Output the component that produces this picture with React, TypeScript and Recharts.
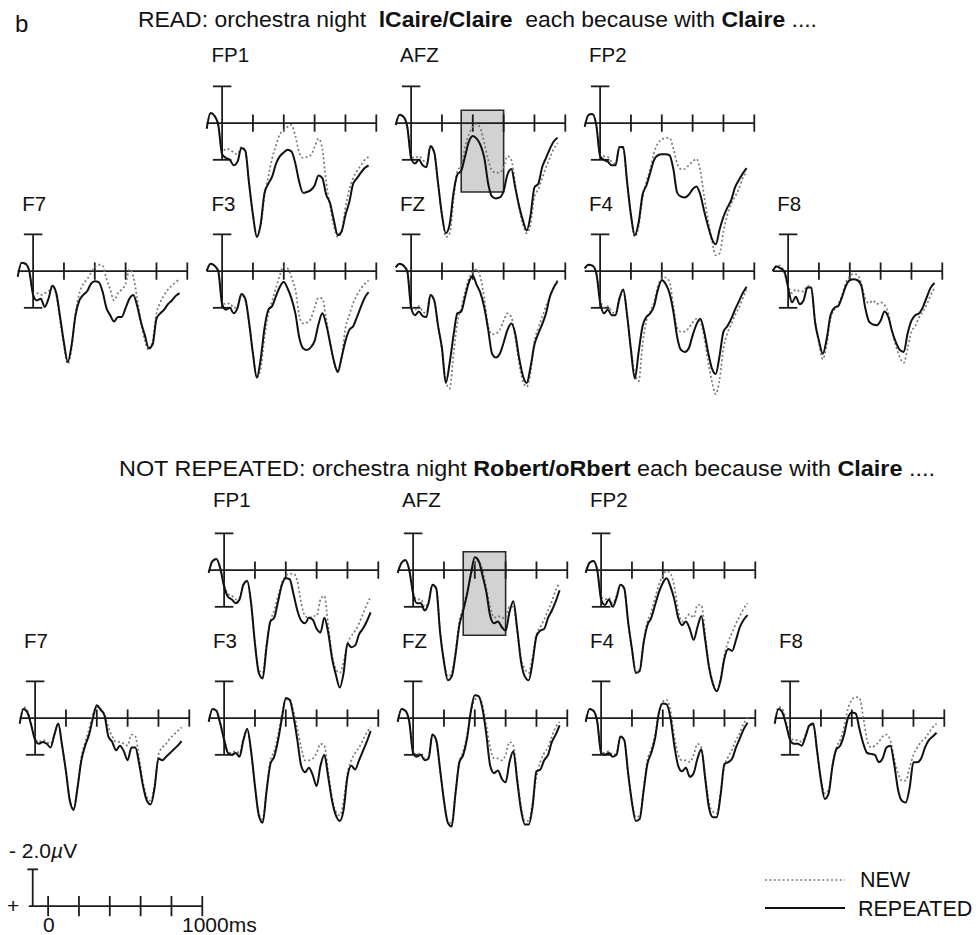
import React from "react";
import { LineChart, Line, XAxis, YAxis, ReferenceLine, ReferenceArea } from "recharts";

// time base (ms) shared by every trace
const TIMES = [-100,-75,-50,-25,0,25,50,75,100,125,150,175,200,225,250,275,300,325,350,375,400,425,450,475,500,525,550,575,600,625,650,675,700,725,750,775,800,825,850,875,900,925,950];
const TICKS = [200, 400, 600, 800, 1000];
const SCALE_TICKS = [0, 200, 400, 600, 800, 1000];

// amplitudes in microvolts (positive plotted downward)
// READ panel
const READ_FP1_REP = [0.3,-0.55,-0.4,0.1,1.7,1.9,2.0,2.3,2.1,1.35,1.5,3.3,5.0,6.2,5.5,3.8,3.3,2.9,2.2,1.8,1.6,1.45,1.55,2.2,3.2,3.8,3.75,3.65,3.4,2.85,3.0,3.9,4.35,5.3,6.1,5.9,5.0,4.3,3.3,3.0,2.7,2.45,2.3];
const READ_FP1_NEW = [0.3,-0.55,-0.4,0.1,1.6,1.4,1.45,1.6,1.7,1.3,1.5,3.3,5.0,6.1,5.6,4.0,2.9,1.9,1.2,0.6,0.4,0.2,0.1,0.7,1.6,1.9,1.85,1.75,1.3,0.85,1.4,3.2,4.5,5.6,6.2,5.9,4.6,3.6,3.0,2.6,2.3,2.0,1.85];
const READ_AFZ_REP = [0.1,-0.45,-0.35,0.2,1.9,2.2,2.0,2.3,2.4,1.25,1.6,3.3,5.0,6.0,5.5,3.8,2.8,2.6,1.8,1.0,0.7,0.85,1.2,1.9,3.3,4.0,4.1,4.05,3.7,2.8,2.5,3.5,4.5,5.3,5.85,5.0,3.5,3.3,2.4,1.9,1.4,1.0,0.8];
const READ_AFZ_NEW = [0.1,-0.45,-0.35,0.2,1.8,1.9,1.8,2.0,2.2,1.3,1.6,3.3,5.0,6.2,6.0,4.2,2.6,2.3,1.3,0.6,0.2,0.05,0.3,1.1,2.0,2.6,2.7,2.7,2.4,1.8,2.0,3.3,4.6,5.5,6.0,5.5,4.0,3.6,3.0,2.4,1.9,1.4,1.1];
const READ_FP2_REP = [0.2,-0.45,-0.5,0.1,1.8,2.0,2.1,2.3,2.3,1.3,1.3,3.2,5.0,6.1,5.4,3.9,3.4,2.7,2.0,1.75,1.7,1.7,1.75,2.5,3.8,4.0,4.05,3.9,3.6,3.45,3.9,4.8,5.6,6.3,6.6,5.8,5.1,4.6,4.2,3.5,3.1,2.75,2.45];
const READ_FP2_NEW = [0.2,-0.45,-0.5,0.1,1.7,1.8,1.85,2.1,2.2,1.3,1.4,3.3,5.1,6.2,5.6,4.1,3.2,2.5,1.6,1.1,0.9,0.8,0.8,1.4,2.2,2.5,2.5,2.3,2.1,1.95,2.6,4.0,5.3,6.4,7.2,7.1,5.9,5.0,4.4,4.0,3.6,3.0,2.7];
const READ_F7_REP = [0.3,-0.45,-0.4,0.0,1.3,1.6,1.5,1.95,1.5,0.8,1.2,2.5,3.9,4.95,4.0,2.4,1.6,1.3,1.1,0.7,0.55,0.6,1.1,2.0,2.4,2.75,2.5,2.5,2.0,1.5,1.3,1.9,2.8,3.5,4.2,4.0,2.6,2.3,2.1,1.8,1.6,1.35,1.2];
const READ_F7_NEW = [0.3,-0.45,-0.4,0.0,1.2,1.2,1.3,1.2,1.1,0.8,1.3,2.7,4.1,5.05,4.2,2.3,1.2,0.7,0.45,0.1,-0.2,-0.35,-0.3,0.4,1.0,1.6,1.2,1.0,0.7,-0.1,0.3,1.5,2.8,3.8,4.3,3.8,2.3,1.7,1.3,1.0,0.8,0.6,0.45];
const READ_F3_REP = [0.0,-0.4,-0.3,0.0,1.8,2.1,2.0,2.3,2.0,1.25,1.5,2.8,4.5,5.8,4.8,3.1,2.1,1.9,1.35,0.85,0.6,0.95,1.5,2.3,3.6,4.2,4.3,4.15,3.8,2.9,2.3,2.9,3.9,4.9,5.5,4.7,3.8,3.2,3.0,2.5,1.95,1.45,1.15];
const READ_F3_NEW = [0.0,-0.4,-0.3,0.0,1.7,1.8,1.75,2.0,1.9,1.3,1.6,2.9,4.5,5.8,5.3,3.6,2.3,1.6,0.9,0.2,-0.25,-0.15,0.35,1.0,2.4,2.85,2.8,2.6,2.0,1.45,1.5,2.6,3.9,5.0,5.4,4.7,3.1,2.4,1.75,1.3,0.95,0.7,0.5];
const READ_FZ_REP = [-0.2,-0.4,-0.3,0.0,2.0,2.4,2.2,2.45,2.5,1.3,1.6,3.0,4.2,6.1,5.0,3.5,2.3,2.2,1.4,0.6,0.25,0.75,1.2,2.0,3.2,4.5,4.7,4.5,3.9,3.2,2.85,3.4,4.7,5.7,6.1,5.2,4.0,3.4,2.9,2.3,1.4,0.9,0.55];
const READ_FZ_NEW = [-0.2,-0.4,-0.3,0.0,1.9,2.1,1.9,2.2,2.3,1.3,1.6,3.0,4.3,6.0,6.4,4.5,2.8,2.0,1.1,0.4,0.05,-0.1,0.35,1.5,3.0,3.45,3.4,3.2,2.7,2.3,2.5,3.6,5.0,6.0,6.3,5.5,3.8,3.1,2.5,1.9,1.4,0.9,0.5];
const READ_F4_REP = [-0.15,-0.35,-0.3,0.1,1.7,2.3,2.1,2.4,2.4,1.5,1.0,2.4,4.3,5.85,4.4,3.0,2.5,2.3,1.9,1.0,0.5,0.7,1.2,2.2,3.6,4.3,4.4,4.2,3.5,2.9,2.6,3.3,4.4,5.3,5.6,4.6,3.3,3.0,2.6,2.1,1.65,1.2,0.85];
const READ_F4_NEW = [-0.15,-0.35,-0.3,0.1,1.5,2.0,1.9,2.2,2.3,1.5,1.1,2.4,4.2,5.6,6.0,4.0,2.7,2.2,1.7,0.8,0.4,0.35,0.6,1.9,3.1,3.3,3.3,3.1,2.8,2.6,2.75,3.6,4.9,6.0,6.7,5.9,4.2,3.4,2.9,2.4,2.0,1.5,1.0];
const READ_F8_REP = [0.0,-0.25,-0.15,0.0,0.9,1.7,1.4,1.8,1.6,0.9,0.9,2.8,3.8,4.5,3.7,2.4,2.0,1.9,1.4,0.8,0.5,0.45,0.5,0.8,2.0,2.75,2.9,2.95,2.7,2.2,2.5,3.3,3.9,4.3,4.4,3.4,2.7,2.4,2.3,1.95,1.4,0.9,0.65];
const READ_F8_NEW = [0.0,-0.3,-0.3,0.1,0.8,1.2,1.0,1.1,1.1,0.8,0.9,2.7,3.9,4.8,4.0,2.6,2.1,1.8,1.3,0.6,0.3,0.15,0.2,0.7,1.5,1.75,1.6,1.8,1.7,1.85,2.3,3.3,4.1,4.7,5.0,4.2,3.3,3.0,2.5,2.2,1.8,1.3,0.9];

// NOT REPEATED panel
const NR_FP1_REP = [0.15,-0.5,-0.6,-0.1,0.9,1.45,1.6,1.8,1.6,0.8,0.6,1.8,4.0,5.6,5.9,4.2,2.8,2.6,1.7,0.8,0.45,0.5,1.3,2.2,2.75,2.9,2.6,2.7,3.2,3.4,2.6,3.4,4.8,5.7,6.4,5.6,4.0,4.2,4.1,3.5,3.2,2.8,2.3];
const NR_FP1_NEW = [0.15,-0.5,-0.55,-0.1,0.8,1.3,1.4,1.6,1.5,0.8,0.6,1.9,4.0,5.4,5.6,4.0,2.8,2.2,1.4,0.7,0.3,0.2,0.2,0.6,1.8,2.5,2.6,2.5,2.5,1.6,1.4,3.0,4.6,5.4,5.6,5.0,4.0,3.6,3.3,2.9,2.4,1.9,1.45];
const NR_AFZ_REP = [0.15,-0.4,-0.55,0.0,1.3,1.8,1.8,2.2,1.8,0.8,1.0,3.4,5.0,6.0,5.8,4.6,3.0,2.2,1.3,0.2,-0.7,-0.5,0.3,1.2,2.5,2.9,2.8,3.1,3.3,2.3,1.7,3.2,5.0,5.8,6.0,5.0,3.6,3.3,3.2,2.6,2.2,1.7,1.1];
const NR_AFZ_NEW = [0.15,-0.4,-0.5,0.0,1.2,1.6,1.6,2.0,1.7,0.8,1.0,3.3,4.9,5.8,5.6,4.4,2.8,2.0,1.2,0.3,-0.4,-0.5,0.0,1.0,2.0,2.6,2.5,2.6,2.6,2.0,2.0,3.3,4.8,5.4,5.6,4.7,3.5,3.1,2.7,2.2,1.7,1.1,0.7];
const NR_FP2_REP = [0.15,-0.4,-0.5,0.0,1.6,1.9,1.6,2.0,1.5,0.8,1.0,2.8,4.3,5.6,5.5,4.0,3.0,2.6,1.9,1.2,0.7,0.45,0.9,1.6,2.6,3.0,2.8,3.2,3.8,3.1,2.5,3.8,5.3,6.2,6.6,6.0,4.8,4.3,4.4,3.8,3.1,2.7,2.45];
const NR_FP2_NEW = [0.15,-0.4,-0.5,0.0,1.4,1.6,1.5,1.8,1.4,0.8,1.0,2.9,4.3,5.5,5.4,3.9,2.8,2.3,1.5,0.8,0.3,0.05,0.2,0.9,2.2,2.8,2.6,2.4,2.6,1.9,1.9,3.5,5.2,6.1,6.6,5.9,4.6,3.9,3.4,2.9,2.5,2.1,1.8];
const NR_F7_REP = [0.3,-0.5,-0.3,0.4,1.2,1.4,1.3,1.4,1.6,0.9,0.3,1.5,2.9,4.5,5.0,3.8,2.3,1.5,0.9,0.0,-0.7,-0.45,-0.15,1.0,1.3,1.75,1.5,1.8,2.3,1.6,1.6,2.5,3.7,4.5,4.7,3.8,2.2,2.3,2.1,1.9,1.7,1.5,1.25];
const NR_F7_NEW = [0.3,-0.6,-0.4,0.3,1.1,1.3,1.2,1.3,1.4,0.9,0.3,1.5,2.9,4.4,4.9,3.7,2.1,1.3,0.6,-0.2,-0.6,-0.5,-0.2,0.5,1.0,1.3,1.3,1.4,1.5,0.9,1.0,2.2,3.5,4.3,4.5,3.6,2.0,1.6,1.4,1.1,0.9,0.7,0.5];
const NR_F3_REP = [0.2,-0.5,-0.4,0.3,1.2,1.9,2.0,1.9,2.1,1.2,0.6,1.8,3.7,5.3,5.7,4.0,2.5,2.1,1.2,0.0,-1.1,-1.0,-0.1,1.2,2.6,2.95,2.7,3.1,3.7,2.6,2.0,3.2,4.5,5.3,5.6,5.0,3.2,2.6,2.8,2.3,1.8,1.3,0.7];
const NR_F3_NEW = [0.2,-0.5,-0.4,0.3,1.1,1.8,1.9,1.8,1.9,1.1,0.6,1.9,3.7,5.2,5.5,3.9,2.3,1.8,0.9,-0.2,-1.0,-1.0,-0.4,0.6,1.6,2.3,2.3,2.2,1.9,1.4,1.5,2.9,4.3,5.1,5.3,4.5,3.0,2.3,1.9,1.6,1.2,0.8,0.5];
const NR_FZ_REP = [0.2,-0.5,-0.4,0.2,1.9,2.1,2.0,2.3,2.2,0.9,1.2,2.8,4.5,5.7,5.9,4.1,2.4,2.0,1.1,-0.4,-1.25,-1.2,-0.5,0.9,2.6,3.0,2.85,3.3,3.5,2.4,1.8,3.4,5.0,5.8,5.8,4.8,2.9,2.8,2.3,2.0,1.3,0.9,0.4];
const NR_FZ_NEW = [0.2,-0.5,-0.4,0.2,1.8,2.0,1.9,2.2,2.1,0.9,1.3,2.9,4.5,5.6,5.7,4.0,2.4,1.8,0.9,-0.3,-1.0,-1.1,-0.7,0.4,1.6,2.2,2.2,2.3,2.0,1.3,1.5,3.2,4.8,5.6,5.6,4.6,3.2,2.4,1.9,1.6,1.0,0.5,0.2];
const NR_F4_REP = [0.2,-0.5,-0.4,0.2,1.9,2.0,1.9,2.1,2.0,1.0,1.2,3.0,4.6,5.6,5.5,4.0,2.5,1.9,1.1,-0.3,-0.8,-0.75,0.0,1.5,2.6,2.9,2.7,3.2,3.0,2.2,1.7,3.3,4.9,5.4,5.4,4.2,2.5,2.4,2.2,1.6,1.1,0.6,0.25];
const NR_F4_NEW = [0.2,-0.5,-0.4,0.2,1.8,1.9,1.8,2.0,1.9,1.0,1.2,3.0,4.5,5.4,5.3,3.9,2.3,1.7,0.9,-0.3,-0.9,-1.0,-0.4,1.0,2.0,2.3,2.3,2.4,2.0,1.4,1.6,3.1,4.6,5.1,5.2,4.0,2.6,2.1,1.7,1.2,0.8,0.3,0.0];
const NR_F8_REP = [0.3,-0.5,-0.3,0.4,1.2,1.4,1.4,1.5,1.0,0.4,0.3,1.8,3.4,4.4,4.1,2.6,1.7,1.5,0.9,0.0,-0.3,-0.25,0.6,1.4,1.9,1.95,2.0,2.4,2.2,1.6,1.5,2.5,3.9,4.5,4.6,3.8,2.4,2.4,2.2,1.6,1.2,1.0,0.8];
const NR_F8_NEW = [0.3,-0.6,-0.5,0.2,1.0,1.2,1.2,1.3,0.9,0.4,0.4,1.8,3.3,4.1,3.9,2.5,1.6,1.2,0.5,-0.5,-1.0,-1.15,-1.1,0.0,1.2,1.6,1.5,1.3,1.0,0.9,1.2,2.2,3.0,3.4,3.4,2.7,2.0,1.6,1.3,1.1,0.8,0.5,0.3];

// analysis window shown as grey box on AFZ: [ms start, ms end, uV top, uV bottom]
const READ_BOX = [325, 600, -0.7, 3.75];
const NR_BOX = [325, 600, -1.0, 3.55];

const READ_TITLE = ["READ: orchestra night  ", "lCaire/Claire", "  each because with ", "Claire", " ...."];
const NR_TITLE = ["NOT REPEATED: orchestra night ", "Robert/oRbert", " each because with ", "Claire", " ...."];

// layout constants
const PX_MS = 0.1542;
const PX_UV = 18.36;
const X_MIN = -150, X_MAX = 1050, Y_MIN = -3, Y_MAX = 8;
const W = Math.round((X_MAX - X_MIN) * PX_MS);
const H = Math.round((Y_MAX - Y_MIN) * PX_UV);
const FONT = "'Liberation Sans', Arial, Helvetica, sans-serif";

const AX = "#1c1c1c";

type MiniProps = { axisX: number; zeroY: number; rep: number[]; neu: number[]; box?: number[] };

function Mini({ axisX, zeroY, rep, neu, box }: MiniProps) {
  const data = TIMES.map((t, i) => ({ t, n: neu[i], r: rep[i] }));
  return (
    <div style={{ position: "absolute", left: axisX + X_MIN * PX_MS, top: zeroY + Y_MIN * PX_UV, width: W, height: H }}>
      <LineChart width={W} height={H} data={data} margin={{ top: 0, right: 0, bottom: 0, left: 0 }}>
        <XAxis type="number" dataKey="t" domain={[X_MIN, X_MAX]} hide allowDataOverflow />
        <YAxis type="number" domain={[Y_MIN, Y_MAX]} reversed hide allowDataOverflow />
        {box && (
          <ReferenceArea x1={box[0]} x2={box[1]} y1={box[2]} y2={box[3]} fill="#d2d2d2" fillOpacity={1} stroke="#2a2a2a" strokeWidth={1.6} />
        )}
        <ReferenceLine segment={[{ x: -100, y: 0 }, { x: 1000, y: 0 }]} stroke={AX} strokeWidth={1.8} />
        {TICKS.map((tk) => (
          <ReferenceLine key={tk} segment={[{ x: tk, y: -0.47 }, { x: tk, y: 0.47 }]} stroke={AX} strokeWidth={1.8} />
        ))}
        <ReferenceLine segment={[{ x: 0, y: -2 }, { x: 0, y: 2 }]} stroke={AX} strokeWidth={1.8} />
        <ReferenceLine segment={[{ x: -60, y: -2 }, { x: 60, y: -2 }]} stroke={AX} strokeWidth={1.8} />
        <ReferenceLine segment={[{ x: -60, y: 2 }, { x: 60, y: 2 }]} stroke={AX} strokeWidth={1.8} />
        <Line dataKey="n" type="monotone" stroke="#7a7a7a" strokeWidth={1.7} strokeDasharray="2 2.4" dot={false} isAnimationActive={false} />
        <Line dataKey="r" type="monotone" stroke="#111" strokeWidth={2} dot={false} isAnimationActive={false} />
      </LineChart>
    </div>
  );
}

function ScaleBar({ axisX, zeroY }: { axisX: number; zeroY: number }) {
  const data = SCALE_TICKS.map((t) => ({ t }));
  return (
    <div style={{ position: "absolute", left: axisX + X_MIN * PX_MS, top: zeroY + Y_MIN * PX_UV, width: W, height: H }}>
      <LineChart width={W} height={H} data={data} margin={{ top: 0, right: 0, bottom: 0, left: 0 }}>
        <XAxis type="number" dataKey="t" domain={[X_MIN, X_MAX]} hide allowDataOverflow />
        <YAxis type="number" domain={[Y_MIN, Y_MAX]} reversed hide allowDataOverflow />
        <ReferenceLine segment={[{ x: -125, y: 0 }, { x: 1000, y: 0 }]} stroke={AX} strokeWidth={1.8} />
        {SCALE_TICKS.map((tk) => (
          <ReferenceLine key={tk} segment={[{ x: tk, y: -0.55 }, { x: tk, y: 0.55 }]} stroke={AX} strokeWidth={1.8} />
        ))}
        <ReferenceLine segment={[{ x: -100, y: -2 }, { x: -100, y: 0 }]} stroke={AX} strokeWidth={1.8} />
        <ReferenceLine segment={[{ x: -135, y: -2 }, { x: -65, y: -2 }]} stroke={AX} strokeWidth={1.8} />
      </LineChart>
    </div>
  );
}

// column axis positions (x of 0 ms), row zero lines (y of 0 uV), label baselines per row
const READ_COLS = [33.3, 222.6, 411, 600, 788.3];
const READ_ROWS = [123, 271];
const READ_LABEL_Y = [62, 211];
const NR_COLS = [35, 224, 413, 601, 790];
const NR_ROWS = [570, 718];
const NR_LABEL_Y = [507, 648];

type Plot = { name: string; col: number; row: number; rep: number[]; neu: number[]; box?: number[] };

const READ_PLOTS: Plot[] = [
  { name: "FP1", col: 1, row: 0, rep: READ_FP1_REP, neu: READ_FP1_NEW },
  { name: "AFZ", col: 2, row: 0, rep: READ_AFZ_REP, neu: READ_AFZ_NEW, box: READ_BOX },
  { name: "FP2", col: 3, row: 0, rep: READ_FP2_REP, neu: READ_FP2_NEW },
  { name: "F7", col: 0, row: 1, rep: READ_F7_REP, neu: READ_F7_NEW },
  { name: "F3", col: 1, row: 1, rep: READ_F3_REP, neu: READ_F3_NEW },
  { name: "FZ", col: 2, row: 1, rep: READ_FZ_REP, neu: READ_FZ_NEW },
  { name: "F4", col: 3, row: 1, rep: READ_F4_REP, neu: READ_F4_NEW },
  { name: "F8", col: 4, row: 1, rep: READ_F8_REP, neu: READ_F8_NEW },
];
const NR_PLOTS: Plot[] = [
  { name: "FP1", col: 1, row: 0, rep: NR_FP1_REP, neu: NR_FP1_NEW },
  { name: "AFZ", col: 2, row: 0, rep: NR_AFZ_REP, neu: NR_AFZ_NEW, box: NR_BOX },
  { name: "FP2", col: 3, row: 0, rep: NR_FP2_REP, neu: NR_FP2_NEW },
  { name: "F7", col: 0, row: 1, rep: NR_F7_REP, neu: NR_F7_NEW },
  { name: "F3", col: 1, row: 1, rep: NR_F3_REP, neu: NR_F3_NEW },
  { name: "FZ", col: 2, row: 1, rep: NR_FZ_REP, neu: NR_FZ_NEW },
  { name: "F4", col: 3, row: 1, rep: NR_F4_REP, neu: NR_F4_NEW },
  { name: "F8", col: 4, row: 1, rep: NR_F8_REP, neu: NR_F8_NEW },
];

function Title({ parts, x, y, len }: { parts: string[]; x: number; y: number; len: number }) {
  return (
    <text x={x} y={y} fontSize={22} fill="#111" textLength={len} lengthAdjust="spacingAndGlyphs" style={{ whiteSpace: "pre" }}>
      <tspan>{parts[0]}</tspan>
      <tspan fontWeight="bold">{parts[1]}</tspan>
      <tspan>{parts[2]}</tspan>
      <tspan fontWeight="bold">{parts[3]}</tspan>
      <tspan>{parts[4]}</tspan>
    </text>
  );
}

export default function App() {
  const panels = [
    { plots: READ_PLOTS, cols: READ_COLS, rows: READ_ROWS, labelY: READ_LABEL_Y },
    { plots: NR_PLOTS, cols: NR_COLS, rows: NR_ROWS, labelY: NR_LABEL_Y },
  ];
  return (
    <div style={{ position: "absolute", left: 0, top: 0, width: 978, height: 935, background: "#fff", overflow: "hidden", fontFamily: FONT }}>
      {panels.map((p, pi) =>
        p.plots.map((pl) => (
          <Mini key={pi + pl.name} axisX={p.cols[pl.col]} zeroY={p.rows[pl.row]} rep={pl.rep} neu={pl.neu} box={pl.box} />
        ))
      )}
      <ScaleBar axisX={48.3} zeroY={906} />
      <svg width={978} height={935} style={{ position: "absolute", left: 0, top: 0, pointerEvents: "none" }} fontFamily={FONT}>
        <text x={15} y={32} fontSize={24} fill="#111">b</text>
        <Title parts={READ_TITLE} x={138} y={27} len={679} />
        <Title parts={NR_TITLE} x={119} y={476} len={816} />
        {panels.map((p, pi) =>
          p.plots.map((pl) => (
            <text key={"l" + pi + pl.name} x={p.cols[pl.col] - 11} y={p.labelY[pl.row]} fontSize={20.5} fill="#111">
              {pl.name}
            </text>
          ))
        )}
        <text x={9} y={858} fontSize={21} fill="#111" style={{ whiteSpace: "pre" }}>
          {"- 2.0"}
          <tspan fontStyle="italic">µ</tspan>
          {"V"}
        </text>
        <text x={7} y={913} fontSize={21} fill="#111">+</text>
        <text x={43} y={932} fontSize={21} fill="#111">0</text>
        <text x={182} y={932} fontSize={21} fill="#111">1000ms</text>
        <line x1={765} y1={880} x2={845} y2={880} stroke="#7a7a7a" strokeWidth={1.7} strokeDasharray="2 2.4" />
        <line x1={765} y1={908} x2={845} y2={908} stroke="#111" strokeWidth={2} />
        <text x={860} y={887} fontSize={21.5} fill="#111">NEW</text>
        <text x={858} y={916} fontSize={21.5} fill="#111">REPEATED</text>
      </svg>
    </div>
  );
}
